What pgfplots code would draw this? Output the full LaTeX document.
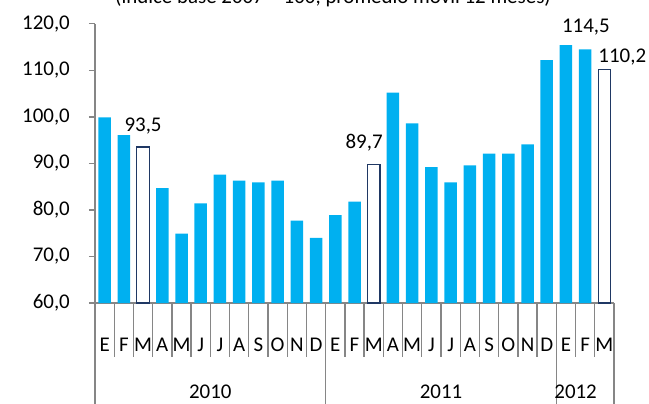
\documentclass[border=0pt]{standalone}
\usepackage{pgfplots}
\pgfplotsset{compat=1.18}
\usepackage{fontspec}
\setmainfont{Carlito}
\definecolor{barblue}{HTML}{00B0F0}
\definecolor{navyb}{HTML}{1F3864}
\definecolor{axgray}{HTML}{868686}
\begin{document}
\fontsize{21}{25}\selectfont
\begin{tikzpicture}[x=1bp,y=1bp]
\begin{axis}[
  at={(0,0)}, anchor=south west,
  scale only axis, width=519bp, height=279.2bp,
  xmin=-0.5, xmax=26.5, ymin=60, ymax=120,
  axis x line=bottom, axis y line=left,
  axis line style={-, draw=axgray, line width=1.3bp},
  ytick={60,70,...,120},
  yticklabel style={xshift=-12bp, /pgf/number format/.cd, fixed, fixed zerofill, precision=1, use comma, assume math mode=true, 1000 sep={}},
  tick align=outside, major tick length=6bp,
  y tick style={draw=axgray, line width=1.3bp},
  xtick={0,...,26},
  xticklabels={E,F,M,A,M,J,J,A,S,O,N,D,E,F,M,A,M,J,J,A,S,O,N,D,E,F,M},
  x tick style={draw=none},
  xticklabel style={anchor=base, yshift=-42bp},
  ybar, bar width=12.5bp, bar shift=0pt,
]
\addplot[fill=barblue, draw=none] coordinates {
(0,99.9) (1,96.1) (3,84.7) (4,74.9) (5,81.4) (6,87.6) (7,86.3) (8,85.9) (9,86.3) (10,77.7) (11,74.0)
(12,78.9) (13,81.8) (15,105.2) (16,98.6) (17,89.2) (18,85.9) (19,89.6) (20,92.1) (21,92.1) (22,94.1) (23,112.2)
(24,115.4) (25,114.5)};
\addplot[fill=white, draw=navyb, line width=1.3bp] coordinates {(2,93.5) (14,89.7) (26,110.2)};
\coordinate (l1) at (axis cs:2,96.8);
\coordinate (l2) at (axis cs:13.5,93.3);
\coordinate (l3) at (axis cs:25.04,118.1);
\coordinate (l4) at (axis cs:25.68,111.6);
\end{axis}
\node[anchor=base, inner sep=0] at (l1) {93,5};
\node[anchor=base, inner sep=0] at (l2) {89,7};
\node[anchor=base, inner sep=0] at (l3) {114,5};
\node[anchor=base west, inner sep=0] at (l4) {110,2};
\foreach \k in {1,...,11,13,14,...,23,25,26} \draw[axgray, line width=1.3bp] (\k*19.2222,0) -- (\k*19.2222,-54);
\foreach \k in {0,12,24,27} \draw[axgray, line width=1.3bp] (\k*19.2222,0) -- (\k*19.2222,-110);
\node[anchor=base, inner sep=0] at (115.3,-95) {2010};
\node[anchor=base, inner sep=0] at (346,-95) {2011};
\node[anchor=base, inner sep=0] at (480.6,-95) {2012};
\node[anchor=base, inner sep=0] at (238,299.5) {(índice base 2007 = 100, promedio móvil 12 meses)};
\pgfresetboundingbox
\useasboundingbox (-95,-100) rectangle (554,303);
\end{tikzpicture}
\end{document}
